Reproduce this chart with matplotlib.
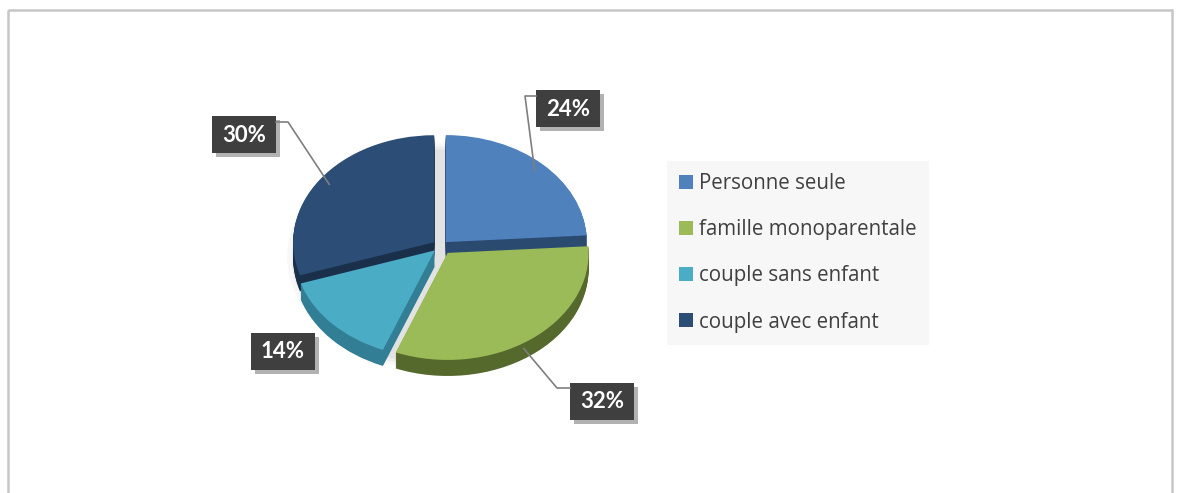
import matplotlib
matplotlib.use("Agg")
import matplotlib.pyplot as plt
import matplotlib.patheffects as pe
from matplotlib.lines import Line2D
from matplotlib.patches import Rectangle, Ellipse
import numpy as np

categories = ["Personne seule", "famille monoparentale", "couple sans enfant", "couple avec enfant"]
shares = [24, 32, 14, 30]
top_colors = ["#4f81bd", "#9bbb59", "#4bacc6", "#2c4d75"]
side_colors = ["#2b4a70", "#56692c", "#327f95", "#1a2f4a"]

W, H = 1181, 493
fig = plt.figure(figsize=(W / 100, H / 100), dpi=100)

# background + frame, pixel coords (y down)
bg = fig.add_axes([0, 0, 1, 1])
bg.set_xlim(0, W)
bg.set_ylim(H, 0)
bg.axis("off")
bg.add_patch(Rectangle((8, 10), 1164, 520, fill=False, edgecolor="#c6c6c6", lw=1.8))

# pie axes: squashed so the circle looks tilted
cx, cy, rx, ry = 441, 246, 141, 107
lim = 1.3
ax = fig.add_axes([(cx - rx * lim) / W, (H - cy - ry * lim) / H,
                   2 * rx * lim / W, 2 * ry * lim / H])
ax.set_zorder(1)
explode = [0.05, 0.08, 0.06, 0.06]
depth = 0.15
nlayers = 16

# soft shadow
for s, a in [(1.06, 0.2), (1.03, 0.3), (1.0, 0.5)]:
    ax.add_patch(Ellipse((-0.03, -0.1), 2 * s, 2 * s, color="#d8d8d8", alpha=a, lw=0))

for k in range(nlayers, 0, -1):
    ax.pie(shares, colors=side_colors, explode=explode, startangle=90,
           counterclock=False, center=(0, -depth * k / nlayers),
           wedgeprops=dict(linewidth=0))
wedges, _ = ax.pie(shares, colors=top_colors, explode=explode, startangle=90,
                   counterclock=False, wedgeprops=dict(linewidth=0))
ax.set_aspect("auto")
ax.set_xlim(-lim, lim)
ax.set_ylim(-lim, lim)
ax.axis("off")

# legend
handles = [Line2D([], [], ls="none", marker="s", markersize=10.5,
                  markerfacecolor=c, markeredgewidth=0) for c in top_colors]
leg = bg.legend(handles, categories, loc="upper left", bbox_to_anchor=(667, 161),
                bbox_transform=bg.transData, frameon=True, fancybox=False,
                facecolor="#f7f7f7", edgecolor="none", framealpha=1,
                prop=dict(family="Open Sans", size=14.8), labelcolor="#404040",
                handlelength=0.65, handletextpad=0.3, labelspacing=1.22,
                borderpad=0.6, borderaxespad=0)

# data labels with leader lines
ov = fig.add_axes([0, 0, 1, 1])
ov.set_zorder(2)
ov.set_xlim(0, W)
ov.set_ylim(H, 0)
ov.axis("off")

label_pos = [(568, 108), (602, 401), (283, 351), (244, 134)]
elbows = [((525, 96), 536), ((557, 388), 570), None, ((288, 122), 276)]
bw, bh = 64, 37

starts = np.cumsum([0] + shares[:-1])
fig.canvas.draw()
to_ov = ov.transData.inverted()
for i, v in enumerate(shares):
    mid = (starts[i] + v / 2) / 100 * 360
    ang = np.deg2rad(90 - mid)
    tx, ty = label_pos[i]
    if elbows[i] is not None:
        r = explode[i] + 0.92
        py = r * np.sin(ang)
        if np.sin(ang) < -0.5:
            py -= depth
        anchor = to_ov.transform(ax.transData.transform((r * np.cos(ang), py)))
        (ex, ey), bx = elbows[i]
        ov.plot([anchor[0], ex, bx], [anchor[1], ey, ey], color="#7f7f7f", lw=1.2)
    box = Rectangle((tx - bw / 2, ty - bh / 2), bw, bh, facecolor="#3f3f3f",
                    edgecolor="none")
    box.set_path_effects([pe.SimplePatchShadow(offset=(3, -3), shadow_rgbFace="#000000", alpha=0.3),
                          pe.Normal()])
    ov.add_patch(box)
    ov.text(tx, ty + 1, f"{v}%", ha="center", va="center", color="white",
            fontsize=16, fontweight="bold", family="Lato")

fig.savefig("out.png", dpi=100)
